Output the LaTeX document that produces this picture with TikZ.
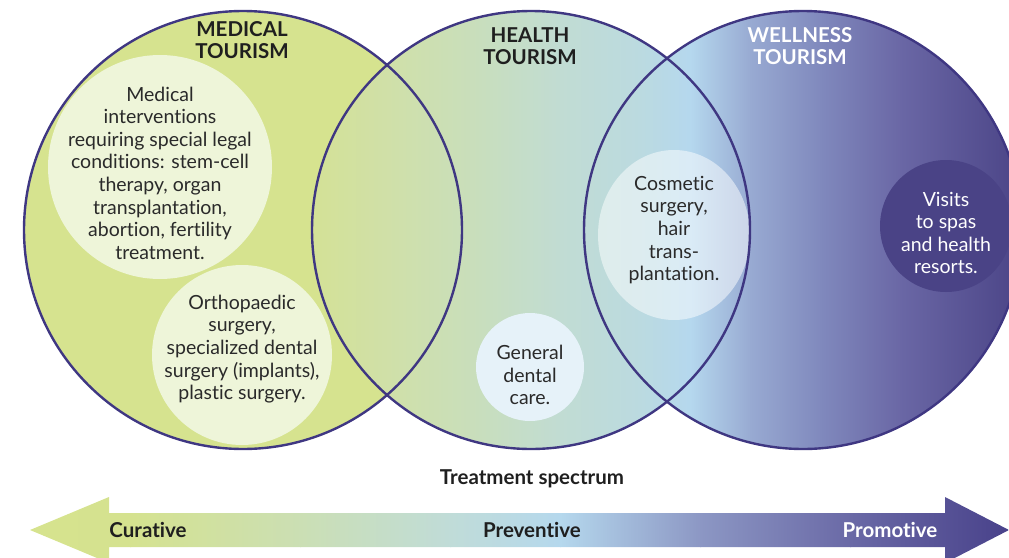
\documentclass[tikz,border=0pt]{standalone}
\usepackage{fontspec}
\setmainfont{Lato}[Ligatures=NoCommon]

\definecolor{ringline}{HTML}{3F3782}
\definecolor{medgreen}{HTML}{D6E38F}
\definecolor{palegreen}{HTML}{EEF5D9}
\definecolor{paleblue}{HTML}{E6F2F9}
\definecolor{spadark}{HTML}{4A4386}
\definecolor{inktext}{HTML}{2A2A2A}
% stops of the circle shading
\definecolor{cA}{HTML}{D4E196}
\definecolor{cB}{HTML}{CFE0AB}
\definecolor{cC}{HTML}{C8DEBD}
\definecolor{cD}{HTML}{C1DCD3}
\definecolor{cE}{HTML}{BBDAE0}
\definecolor{cF}{HTML}{B5D8EE}
\definecolor{cG}{HTML}{98AAD2}
\definecolor{cH}{HTML}{8089BD}
\definecolor{cI}{HTML}{6A67A5}
\definecolor{cJ}{HTML}{4A4386}
% stops of the arrow shading
\definecolor{aA}{HTML}{D6E38E}
\definecolor{aB}{HTML}{D5E28F}
\definecolor{aC}{HTML}{CBDFB4}
\definecolor{aD}{HTML}{C0DCD8}
\definecolor{aE}{HTML}{B5D8ED}
\definecolor{aF}{HTML}{8C97C4}
\definecolor{aG}{HTML}{6A69A6}
\definecolor{aH}{HTML}{48418A}

\tikzset{
  ring/.style={draw=ringline, line width=2.4pt},
  bodytext/.style={align=center, inner sep=0pt, text=inktext,
    font=\fontsize{19.5}{22.6}\selectfont},
  headtext/.style={align=center, inner sep=0pt, text=black!88,
    font=\fontsize{20.5}{22.5}\selectfont\bfseries},
  spectext/.style={inner sep=0pt, text=black!88,
    font=\fontsize{20.5}{22}\selectfont\bfseries},
}

\begin{document}
\begin{tikzpicture}[x=1pt,y=-1pt]
\useasboundingbox (0,0) rectangle (1009,557);
% medical tourism
\fill[medgreen] (243,230) circle[radius=219pt];
% health and wellness tourism
\begin{scope}
\clip (531,230) circle[radius=219pt] (803,230) circle[radius=219pt];
\foreach \xa/\xb/\ca/\cb in {311/401/cA/cB, 400/481/cB/cC, 480/561/cC/cD,
    560/641/cD/cE, 640/691/cE/cF, 690/751/cF/cG, 750/821/cG/cH,
    820/901/cH/cI, 900/1025/cI/cJ}
  \shade[left color=\ca, right color=\cb] (\xa,0) rectangle (\xb,460);
\end{scope}
% inner circles
\fill[palegreen] (160,167) circle[radius=112pt];
\fill[palegreen] (242,355) circle[radius=90pt];
\fill[paleblue] (530,367) circle[radius=54pt];
\fill[white, fill opacity=0.5] (674,235) ellipse[x radius=76pt, y radius=85pt];
\fill[spadark] (946,226) circle[radius=66pt];
% outlines
\draw[ring] (243,230) circle[radius=219pt];
\draw[ring] (531,230) circle[radius=219pt];
\draw[ring] (803,230) circle[radius=219pt];

\node[headtext] (medtitle) at (242,40) {MEDICAL\\TOURISM};
\node[headtext] (healthtitle) at (530,46) {HEALTH\\TOURISM};
\node[headtext, text=white] (welltitle) at (800,46) {WELLNESS\\TOURISM};

\node[bodytext] (legal) at (160,173) {Medical\\interventions\\requiring special legal\\conditions: stem-cell\\therapy, organ\\transplantation,\\abortion, fertility\\treatment.};
\node[bodytext] (ortho) at (242,349) {Orthopaedic\\surgery,\\specialized dental\\surgery (implants),\\plastic surgery.};
\node[bodytext] (dental) at (530,375) {General\\dental\\care.};
\node[bodytext] (cosmetic) at (674,230) {Cosmetic\\surgery,\\hair\\trans-\\plantation.};
\node[bodytext, text=white] (spas) at (946,233) {Visits\\to spas\\and health\\resorts.};

% spectrum arrow
\begin{scope}
\clip (30,530) -- (109,497) -- (109,513) -- (945,513) -- (945,497)
  -- (1009,530) -- (945,563) -- (945,547) -- (109,547) -- (109,563) -- cycle;
\foreach \xa/\xb/\ca/\cb in {25/131/aA/aB, 130/301/aB/aC, 300/451/aC/aD,
    450/561/aD/aE, 560/701/aE/aF, 700/851/aF/aG, 850/1012/aG/aH}
  \shade[left color=\ca, right color=\cb] (\xa,490) rectangle (\xb,570);
\end{scope}
\node[spectext] (spectrum) at (532,479) {Treatment spectrum};
\node[spectext] (curative) at (148,530) {Curative};
\node[spectext] (preventive) at (532,530) {Preventive};
\node[spectext, text=white] (promotive) at (890,530) {Promotive};
\end{tikzpicture}
\end{document}
